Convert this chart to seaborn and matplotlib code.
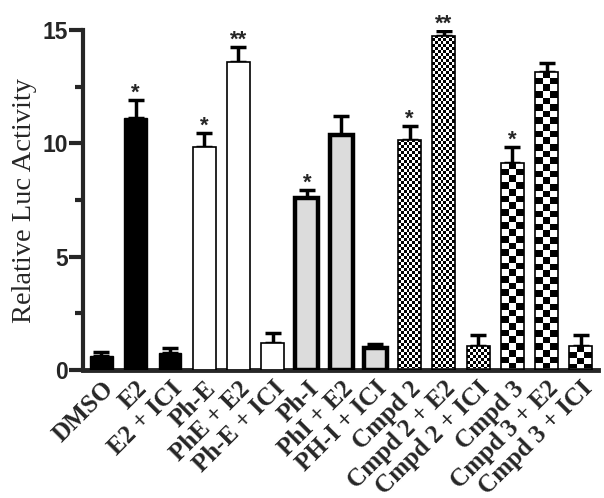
import numpy as np
import matplotlib
matplotlib.use("Agg")
import matplotlib.pyplot as plt
import seaborn as sns

categories = ["DMSO", "E2", "E2 + ICI", "Ph-E", "PhE + E2", "Ph-E + ICI",
              "Ph-I", "PhI + E2", "PH-I + ICI", "Cmpd 2", "Cmpd 2 + E2",
              "Cmpd 2 + ICI", "Cmpd 3", "Cmpd 3 + E2", "Cmpd 3 + ICI"]
means = [0.6, 11.1, 0.75, 9.85, 13.6, 1.2, 7.6, 10.35, 0.95,
         10.15, 14.75, 1.05, 9.15, 13.15, 1.05]
sems = [0.2, 0.8, 0.22, 0.6, 0.65, 0.45, 0.35, 0.85, 0.2,
        0.6, 0.2, 0.5, 0.7, 0.4, 0.5]
stars = ["", "*", "", "*", "**", "", "*", "", "", "*", "**", "", "*", "", ""]
groups = ["black"] * 3 + ["white"] * 3 + ["gray"] * 3 + ["fine"] * 3 + ["coarse"] * 3
y_ticks = [0, 5, 10, 15]
y_minor = [2.5, 7.5, 12.5]

face = {"black": "black", "white": "white", "gray": "#dcdcdc",
        "fine": "white", "coarse": "white"}
edge_w = {"black": 1.0, "white": 1.2, "gray": 3.2, "fine": 1.2, "coarse": 1.2}
cell_px = {"fine": 3.0, "coarse": 6.6}

sns.set_style("ticks")
plt.rcParams["font.family"] = ["Liberation Serif", "DejaVu Serif"]

fig = plt.figure(figsize=(6.04, 4.98), dpi=100)
ax = fig.add_axes([83 / 604, 1 - 370 / 498, (598 - 83) / 604, (370 - 30) / 498])

sns.barplot(x=categories, y=means, hue=categories, legend=False,
            palette=[face[g] for g in groups], width=0.67,
            edgecolor="black", linewidth=1.2, saturation=1, ax=ax)

patches = sorted(ax.patches, key=lambda p: p.get_x())
for p, g in zip(patches, groups):
    p.set_linewidth(edge_w[g])
    p.set_edgecolor("black")
    p.set_zorder(3)

xpos = np.arange(len(categories))
ax.errorbar(xpos, means, yerr=[np.zeros(len(sems)), sems], fmt="none",
            ecolor="black", elinewidth=2.5, capsize=6, capthick=2.5, zorder=2)

ax.set_xlim(-0.54, 14.5)
ax.set_ylim(0, 15)

fig.canvas.draw()
for p, g in zip(patches, groups):
    if g not in cell_px:
        continue
    bb = p.get_window_extent()
    nx = max(1, int(round(bb.width / cell_px[g])))
    ny = max(1, int(round(bb.height / cell_px[g])))
    arr = np.add.outer(np.arange(ny), np.arange(nx)) % 2
    x0, w, h = p.get_x(), p.get_width(), p.get_height()
    im = ax.imshow(arr, cmap="binary", extent=(x0, x0 + w, 0, h),
                   origin="upper", aspect="auto", interpolation="nearest",
                   zorder=2.5, vmin=0, vmax=1)
    im.set_clip_path(p)
    p.set_facecolor("none")

ax.set_xlim(-0.54, 14.5)
ax.set_ylim(0, 15)

for i, s in enumerate(stars):
    if s:
        ax.annotate(s, xy=(i, means[i] + sems[i]), xytext=(0, 1),
                    textcoords="offset points", ha="center", va="baseline",
                    fontsize=16, fontweight="bold",
                    family=["Liberation Sans", "DejaVu Sans"])

sns.despine(ax=ax)
ax.spines["left"].set_linewidth(3)
ax.spines["bottom"].set_linewidth(3.5)

ax.set_yticks(y_ticks)
ax.set_yticks(y_minor, minor=True)
ax.tick_params(axis="y", which="major", length=10, width=3, pad=1)
ax.tick_params(axis="y", which="minor", length=6, width=3)
ax.set_yticklabels([str(t) for t in y_ticks], fontsize=16.5, fontweight="bold",
                   family=["Liberation Sans", "DejaVu Sans"])
ax.tick_params(axis="x", length=0, pad=5)
ax.set_xticks(xpos)
ax.set_xticklabels(categories, rotation=45, ha="right", rotation_mode="anchor",
                   fontsize=18, fontweight="bold")
ax.set_xlabel("")
ax.set_ylabel("Relative Luc Activity", fontsize=20.5, labelpad=4)

fig.savefig("out.png", dpi=100)
